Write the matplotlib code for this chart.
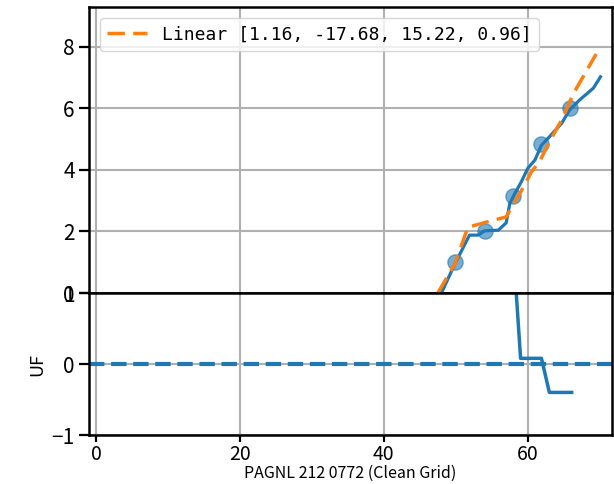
import numpy as np
import matplotlib.pyplot as plt

plt.rcParams['font.family'] = ['Noto Sans CJK JP', 'DejaVu Sans']

# curva medida (linea azul, panel superior)
x_curva = [48.0, 49.9, 51.9, 53.1, 54.0, 55.9, 57.0, 57.5, 58.2, 59.1, 60.0,
           61.0, 61.9, 62.8, 64.7, 65.8, 67.2, 69.1, 70.1]
y_curva = [0.0, 0.96, 1.88, 1.88, 2.02, 2.04, 2.28, 2.91, 3.23, 3.61, 4.05,
           4.32, 4.80, 5.02, 5.51, 5.94, 6.27, 6.65, 7.02]

# puntos de referencia
x_puntos = [49.9, 54.0, 57.9, 61.9, 65.9]
y_puntos = [1.0, 2.0, 3.15, 4.85, 6.0]

# ajuste lineal (naranja)
x_ajuste = [47.5, 49.9, 51.7, 52.2, 55.0, 57.0, 57.5, 58.9, 60.5, 61.7, 63.1,
            64.9, 66.3, 67.9, 69.5]
y_ajuste = [0.0, 0.96, 2.15, 2.17, 2.35, 2.47, 2.69, 3.23, 3.93, 4.30, 4.95,
            5.70, 6.46, 7.11, 7.76]
coef = [1.16, -17.68, 15.22, 0.96]

# residuo (panel inferior)
x_res = [58.2, 59.0, 61.9, 63.0, 66.1]
y_res = [1.3, 0.08, 0.08, -0.40, -0.40]

azul = '#1f77b4'
naranja = '#ff7f0e'

fig = plt.figure(figsize=(6.14, 4.84), dpi=100)
ax1 = fig.add_axes([0.1455, 0.3946, 0.8512, 0.5904])
ax2 = fig.add_axes([0.1455, 0.1012, 0.8512, 0.2934], sharex=ax1)

for ax in (ax1, ax2):
    ax.grid(True, color='#b0b0b0', linewidth=1.5)
    for s in ax.spines.values():
        s.set_linewidth(1.8)
    ax.tick_params(labelsize=15, length=7, width=1.6)
    ax.set_axisbelow(True)

ax1.scatter(x_puntos, y_puntos, s=120, color=azul, alpha=0.6, zorder=3)
ax1.plot(x_curva, y_curva, color=azul, linewidth=2.3, zorder=4)
etiqueta = "Linear [" + ", ".join(f"{c:.2f}" for c in coef) + "]"
ax1.plot(x_ajuste, y_ajuste, color=naranja, linewidth=2.5, zorder=5,
         linestyle=(0, (5, 2.4)), label=etiqueta)
ax1.set_ylim(0, 9.28)
ax1.set_yticks([0, 2, 4, 6, 8])
ax1.tick_params(axis='x', labelbottom=False, bottom=False)
ax1.legend(loc='upper left', prop={'family': 'DejaVu Sans Mono', 'size': 13},
           handlelength=2.2, borderaxespad=0.6)

ax2.plot(x_res, y_res, color=azul, linewidth=2.5)
ax2.axhline(0, color=azul, linestyle='--', linewidth=3)
ax2.set_ylim(-1, 1)
ax2.set_yticks([-1, 0, 1])
ax2.set_xlim(-0.93, 71.7)
ax2.set_xticks([0, 20, 40, 60])
ax2.tick_params(axis='x', length=5, pad=1.5, labelsize=14)
ax2.set_ylabel("UF", fontsize=13)
ax2.set_xlabel("PAGNL 212 0772 (Clean Grid)", fontsize=11.5, va='bottom')
ax2.xaxis.set_label_coords(0.571, 0.004, transform=fig.transFigure)

fig.savefig("out.png", dpi=100)
